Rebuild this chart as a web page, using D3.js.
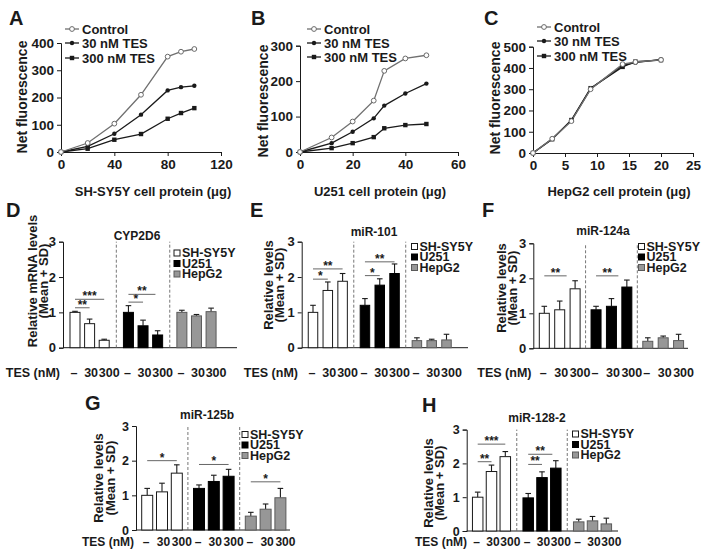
<!DOCTYPE html>
<html><head><meta charset="utf-8">
<script src="https://cdn.jsdelivr.net/npm/d3@7"></script>
<style>
body{margin:0;background:#fff}
svg text{font-family:"Liberation Sans",Arial,sans-serif;font-weight:bold;fill:#1a1a1a}
</style>
</head><body>
<svg id="chart" width="709" height="554"></svg>
<script>
// ---------- DATA ----------
const seriesNames = ["Control", "30 nM TES", "300 nM TES"];

const aX = [0, 20, 40, 60, 80, 90, 100];
const aControl = [0, 33, 104, 210, 350, 368, 378];
const a30 = [0, 21, 67, 137, 226, 238, 243];
const a300 = [0, 12, 45, 66, 122, 143, 161];
const aXTicks = [0, 40, 80, 120];
const aYTicks = [0, 100, 200, 300, 400];

const bX = [0, 12, 20, 28, 32, 40, 48];
const bControl = [0, 41, 86, 145, 229, 264, 273];
const b30 = [0, 25, 57, 95, 131, 165, 193];
const b300 = [0, 11, 25, 42, 67, 76, 79];
const bXTicks = [0, 20, 40, 60];
const bYTicks = [0, 100, 200, 300];

const cX = [0, 3, 6, 9, 14, 16, 20];
const cControl = [0, 67, 150, 300, 418, 428, 438];
const c30 = [0, 67, 152, 302, 412, 425, 440];
const c300 = [0, 65, 155, 305, 405, 430, 437];
const cXTicks = [0, 5, 10, 15, 20, 25];
const cYTicks = [0, 100, 200, 300, 400, 500];

const cellLines = ["SH-SY5Y", "U251", "HepG2"];
const tesLabels = ["\u2013", "30", "300"];
const barYTicks = [0, 1, 2, 3];

const dMean = [[1.0, 0.68, 0.21], [1.0, 0.62, 0.36], [1.0, 0.9, 1.02]];
const dSD   = [[0.03, 0.13, 0.03], [0.19, 0.16, 0.12], [0.06, 0.04, 0.1]];
const dSig  = [[0, 0, 1, 1.13, "**"], [0, 0, 2, 1.37, "***"], [1, 0, 1, 1.29, "*"], [1, 0, 1.85, 1.51, "**"]];

const eMean = [[1.0, 1.62, 1.88], [1.2, 1.77, 2.1], [0.2, 0.2, 0.22]];
const eSD   = [[0.2, 0.24, 0.22], [0.19, 0.18, 0.27], [0.08, 0.04, 0.16]];
const eSig  = [[0, 0, 1, 1.94, "*"], [0, 0, 2, 2.23, "**"], [1, 0, 1, 2.04, "*"], [1, 0, 2, 2.43, "**"]];

const fMean = [[1.0, 1.1, 1.7], [1.1, 1.2, 1.75], [0.2, 0.3, 0.22]];
const fSD   = [[0.2, 0.25, 0.23], [0.1, 0.22, 0.2], [0.1, 0.05, 0.18]];
const fSig  = [[0, 0, 1.45, 2.07, "**"], [1, 0, 1.45, 2.07, "**"]];

const gMean = [[1.0, 1.1, 1.64], [1.2, 1.4, 1.55], [0.4, 0.6, 0.93]];
const gSD   = [[0.2, 0.25, 0.24], [0.1, 0.18, 0.2], [0.11, 0.15, 0.27]];
const gSig  = [[0, 0, 2, 2.0, "*"], [1, 0, 2, 1.89, "*"], [2, 0, 2, 1.39, "*"]];

const hMean = [[1.0, 1.76, 2.2], [0.98, 1.58, 1.86], [0.27, 0.3, 0.21]];
const hSD   = [[0.15, 0.19, 0.15], [0.13, 0.17, 0.22], [0.08, 0.13, 0.17]];
const hSig  = [[0, 0, 1, 2.05, "**"], [0, 0, 2, 2.57, "***"], [1, 0, 1, 1.97, "**"], [1, 0, 1.75, 2.27, "**"]];

// ---------- DRAW ----------
const svg = d3.select("#chart");
const INK = "#1a1a1a";

function letter(t, x, y) {
  svg.append("text").attr("x", x).attr("y", y).attr("font-size", 20).text(t);
}

function styleAxis(g, fs) {
  g.selectAll("path,line").attr("stroke", INK).attr("stroke-width", 1);
  g.selectAll("text").attr("font-size", fs).attr("fill", INK)
    .style("font-family", "'Liberation Sans',Arial,sans-serif").style("font-weight", "bold");
}

function marker(k, cx, cy) {
  if (k === 0) {
    svg.append("circle").attr("cx", cx).attr("cy", cy).attr("r", 2.4)
      .attr("fill", "#fff").attr("stroke", "#6a6a6a").attr("stroke-width", 1);
  } else if (k === 1) {
    svg.append("circle").attr("cx", cx).attr("cy", cy).attr("r", 2.2).attr("fill", INK);
  } else {
    svg.append("rect").attr("x", cx - 2.2).attr("y", cy - 2.2).attr("width", 4.4).attr("height", 4.4).attr("fill", INK);
  }
}

function linePanel(L, xs, ys, xTicks, yTicks, xLabel) {
  const x = d3.scaleLinear().domain([xTicks[0], xTicks[xTicks.length - 1]]).range([L.x0, L.x1]);
  const y = d3.scaleLinear().domain([yTicks[0], yTicks[yTicks.length - 1]]).range([L.y0, L.y1]);
  const gx = svg.append("g").attr("transform", `translate(0,${L.y0})`)
    .call(d3.axisBottom(x).tickValues(xTicks).tickFormat(d3.format("d")).tickSizeOuter(0).tickSize(4).tickPadding(3));
  styleAxis(gx, 13.5);
  const gy = svg.append("g").attr("transform", `translate(${L.x0},0)`)
    .call(d3.axisLeft(y).tickValues(yTicks).tickFormat(d3.format("d")).tickSizeOuter(0).tickSize(4).tickPadding(3));
  styleAxis(gy, 13.5);

  const colors = ["#707070", INK, INK];
  const line = d3.line().x((d, i) => x(xs[i])).y(d => y(d));
  [2, 1, 0].forEach(k => {
    svg.append("path").datum(ys[k]).attr("d", line).attr("fill", "none")
      .attr("stroke", colors[k]).attr("stroke-width", 1.3);
  });
  [2, 1, 0].forEach(k => {
    ys[k].forEach((v, i) => marker(k, x(xs[i]), y(v)));
  });

  seriesNames.forEach((n, k) => {
    const yy = L.legY[k];
    svg.append("line").attr("x1", L.legX0).attr("x2", L.legX1).attr("y1", yy).attr("y2", yy)
      .attr("stroke", colors[k]).attr("stroke-width", 1.3);
    marker(k, (L.legX0 + L.legX1) / 2, yy);
    svg.append("text").attr("x", L.legX1 + 3).attr("y", yy).attr("dy", "0.35em")
      .attr("font-size", 13).text(n);
  });

  svg.append("text").attr("x", L.xlX).attr("y", L.xlY).attr("text-anchor", "middle")
    .attr("font-size", 13).text(xLabel);
  svg.append("text").attr("transform", `translate(${L.ylX},${L.ylY}) rotate(-90)`)
    .attr("text-anchor", "middle").attr("dy", "0.35em").attr("font-size", 14).text("Net fluorescence");
}

const barFill = ["#ffffff", "#000000", "#979797"];
const barStroke = [INK, "#000000", "#5a5a5a"];
const tesShift = [-1, 1.5, 5];

function barPanel(L, mean, sd, sig, title, ylab) {
  const y = d3.scaleLinear().domain([0, 3]).range([L.y0, L.y3]);
  const lo = (L.axL - L.first) / L.pitch, hi = (L.axR - L.first) / L.pitch;
  const x = d3.scaleLinear().domain([lo, hi]).range([L.axL, L.axR]);
  const slot = (g, i) => g * L.gstep + i;

  svg.append("line").attr("x1", L.axL).attr("x2", L.axR).attr("y1", L.y0).attr("y2", L.y0)
    .attr("stroke", INK).attr("stroke-width", 1);
  const gy = svg.append("g").attr("transform", `translate(${L.axL},0)`)
    .call(d3.axisLeft(y).tickValues(barYTicks).tickFormat(d3.format("d")).tickSizeOuter(0).tickSize(4).tickPadding(3));
  styleAxis(gy, L.fs);

  [0, 1].forEach(g => {
    const sx = x((slot(g, 2) + slot(g + 1, 0)) / 2);
    svg.append("line").attr("x1", sx).attr("x2", sx).attr("y1", L.y0).attr("y2", y(3))
      .attr("stroke", "#666").attr("stroke-width", 0.9).attr("stroke-dasharray", "3,2");
  });

  mean.forEach((grp, g) => {
    grp.forEach((v, i) => {
      const cx = x(slot(g, i));
      const top = y(v + sd[g][i]);
      svg.append("line").attr("x1", cx).attr("x2", cx).attr("y1", y(v)).attr("y2", top)
        .attr("stroke", INK).attr("stroke-width", 1.1);
      svg.append("line").attr("x1", cx - 2.8).attr("x2", cx + 2.8).attr("y1", top).attr("y2", top)
        .attr("stroke", INK).attr("stroke-width", 1.1);
      svg.append("rect").attr("x", cx - L.bw / 2).attr("y", y(v)).attr("width", L.bw)
        .attr("height", L.y0 - y(v)).attr("fill", barFill[g]).attr("stroke", barStroke[g]).attr("stroke-width", 1);
      svg.append("text").attr("x", cx + tesShift[i]).attr("y", L.tesY).attr("text-anchor", "middle")
        .attr("font-size", L.tfs).text(tesLabels[i]);
    });
  });

  sig.forEach(s => {
    const [g, a, b, v, lab] = s;
    const x1 = x(slot(g, a)), x2 = x(slot(g, b)), yy = y(v);
    svg.append("line").attr("x1", x1).attr("x2", x2).attr("y1", yy).attr("y2", yy)
      .attr("stroke", "#555").attr("stroke-width", 0.9);
    svg.append("text").attr("x", (x1 + x2) / 2).attr("y", yy + 1).attr("text-anchor", "middle")
      .attr("font-size", 12).text(lab);
  });

  svg.append("text").attr("x", L.titleX).attr("y", L.titleY).attr("text-anchor", "middle")
    .attr("dy", "0.35em").attr("font-size", 12).text(title);

  cellLines.forEach((n, k) => {
    const yy = L.legY[k];
    svg.append("rect").attr("x", L.legX).attr("y", yy - 3).attr("width", 6).attr("height", 6)
      .attr("fill", barFill[k]).attr("stroke", barStroke[k]).attr("stroke-width", 1);
    svg.append("text").attr("x", L.legX + 8).attr("y", yy).attr("dy", "0.35em")
      .attr("font-size", 12.5).text(n);
  });

  svg.append("text").attr("x", L.tesEnd).attr("y", L.tesY).attr("text-anchor", "end")
    .attr("font-size", L.tfs).text("TES (nM)");

  ylab.forEach((t, j) => {
    svg.append("text").attr("transform", `translate(${L.ylX[j]},${L.ylY}) rotate(-90)`)
      .attr("text-anchor", "middle").attr("dy", "0.35em").attr("font-size", 13).text(t);
  });
}

// ---------- PANELS ----------
letter("A", 9, 25); letter("B", 251, 25); letter("C", 484, 25);
letter("D", 6, 217); letter("E", 250, 217); letter("F", 482, 217);
letter("G", 85, 410); letter("H", 422, 412);

linePanel({x0: 61, x1: 221, y0: 152, y1: 43, legX0: 65, legX1: 79, legY: [29, 43, 58],
  xlX: 153, xlY: 196, ylX: 22, ylY: 97}, aX, [aControl, a30, a300], aXTicks, aYTicks, "SH-SY5Y cell protein (\u03bcg)");
linePanel({x0: 300, x1: 458, y0: 152, y1: 45.7, legX0: 307, legX1: 321, legY: [29, 43, 57],
  xlX: 380, xlY: 196, ylX: 263, ylY: 101}, bX, [bControl, b30, b300], bXTicks, bYTicks, "U251 cell protein (\u03bcg)");
linePanel({x0: 533, x1: 693, y0: 153, y1: 46.7, legX0: 537, legX1: 551, legY: [27, 41, 56],
  xlX: 619, xlY: 196, ylX: 495, ylY: 98}, cX, [cControl, c30, c300], cXTicks, cYTicks, "HepG2 cell protein (\u03bcg)");

barPanel({axL: 63, axR: 237, y0: 347.7, y3: 241.7, first: 75, pitch: 14.6, gstep: 3.66, bw: 10, fs: 13, tfs: 12.5,
  titleX: 137, titleY: 236, legX: 174, legY: [253, 263.5, 274], tesEnd: 60, tesY: 377,
  ylX: [32, 43], ylY: 281}, dMean, dSD, dSig, "CYP2D6", ["Relative mRNA levels", "(Mean + SD)"]);
barPanel({axL: 301.7, axR: 468, y0: 347.7, y3: 241.7, first: 313, pitch: 14.8, gstep: 3.51, bw: 9.5, fs: 13, tfs: 12.5,
  titleX: 374, titleY: 232, legX: 411.5, legY: [246.5, 257, 267.5], tesEnd: 298, tesY: 377,
  ylX: [268, 279], ylY: 285}, eMean, eSD, eSig, "miR-101", ["Relative levels", "(Mean + SD)"]);
barPanel({axL: 533.3, axR: 688, y0: 348.3, y3: 243.3, first: 544.3, pitch: 15.4, gstep: 3.36, bw: 10, fs: 13, tfs: 12.5,
  titleX: 603, titleY: 231, legX: 638.5, legY: [246.5, 257, 267.5], tesEnd: 531.5, tesY: 377,
  ylX: [501, 512], ylY: 288}, fMean, fSD, fSig, "miR-124a", ["Relative levels", "(Mean + SD)"]);
barPanel({axL: 136, axR: 290, y0: 530, y3: 426, first: 147.2, pitch: 14.8, gstep: 3.5, bw: 11, fs: 12.5, tfs: 12,
  titleX: 207, titleY: 415, legX: 242, legY: [434.5, 445, 455.5], tesEnd: 134, tesY: 546,
  ylX: [98, 110], ylY: 478}, gMean, gSD, gSig, "miR-125b", ["Relative levels", "(Mean + SD)"]);
barPanel({axL: 466.7, axR: 618, y0: 531, y3: 429.6, first: 477.7, pitch: 13.8, gstep: 3.66, bw: 10.5, fs: 12.5, tfs: 12,
  titleX: 537, titleY: 418, legX: 572.5, legY: [434, 444.5, 455], tesEnd: 467, tesY: 546,
  ylX: [428, 439], ylY: 483}, hMean, hSD, hSig, "miR-128-2", ["Relative levels", "(Mean + SD)"]);
</script>
</body></html>
